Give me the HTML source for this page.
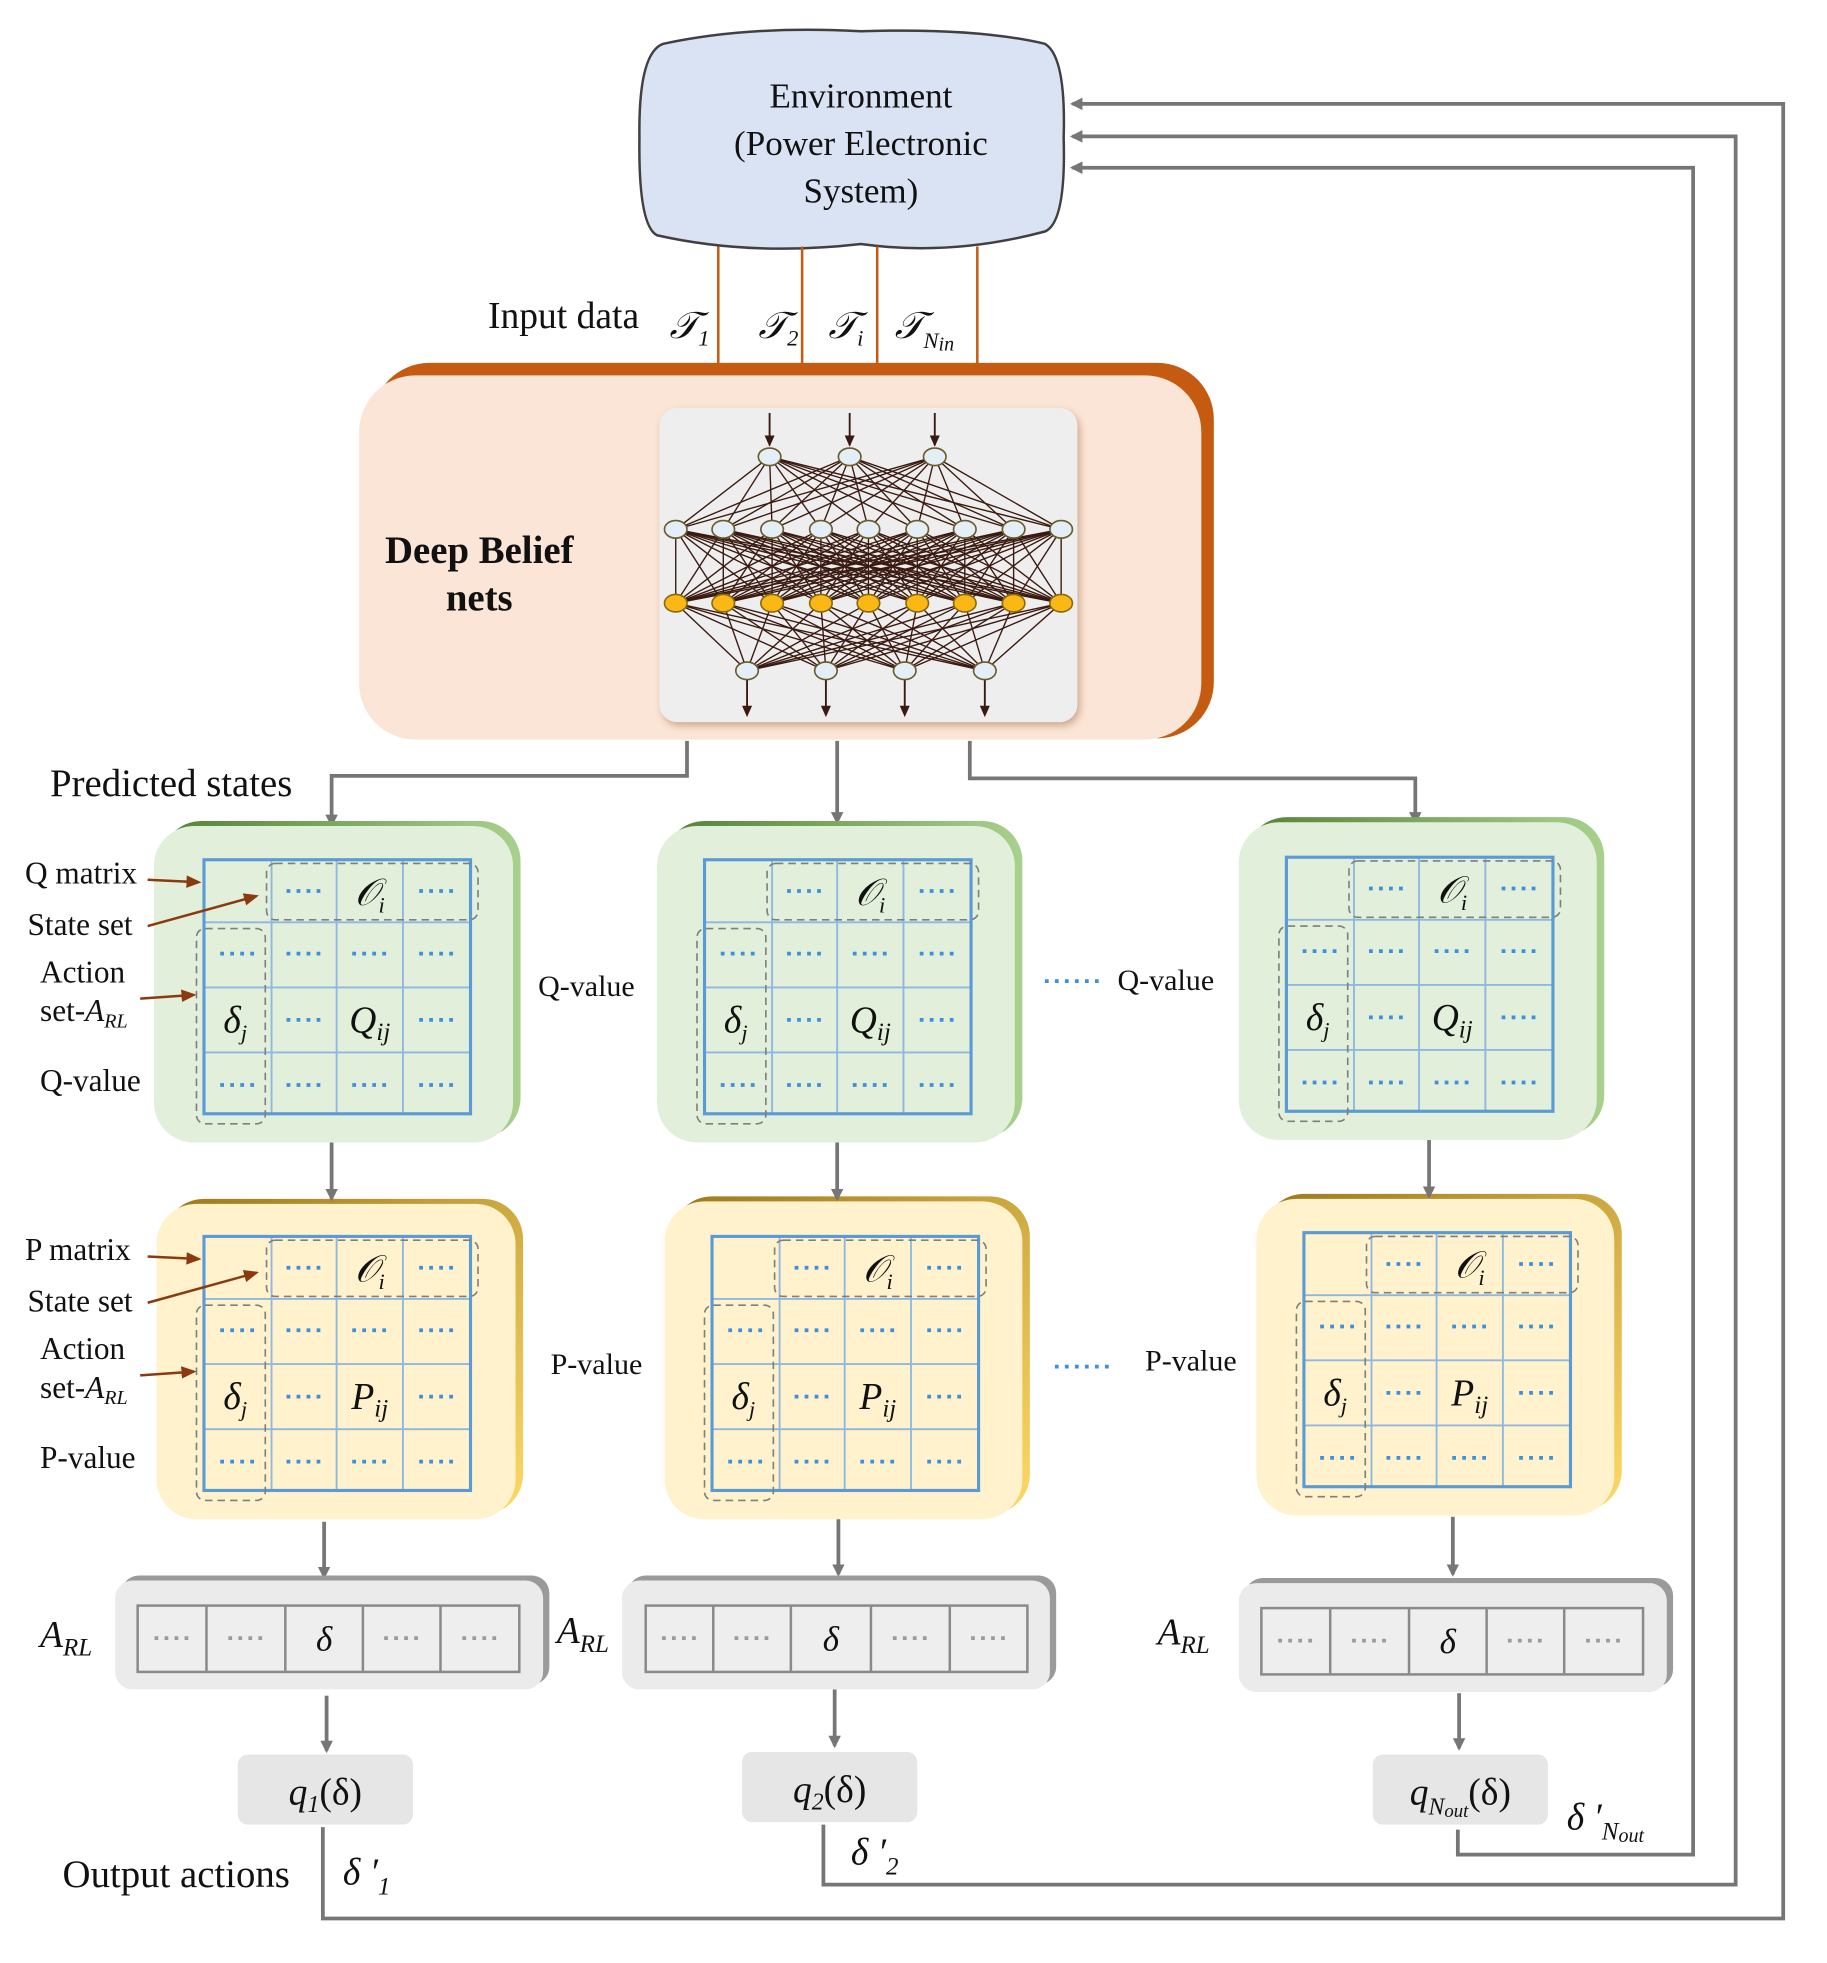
<!DOCTYPE html>
<html><head><meta charset="utf-8">
<style>
html,body{margin:0;padding:0;background:#fff;}
svg{display:block;}
text{font-family:"Liberation Serif",serif;fill:#111;}
.it{font-style:italic;}
</style></head>
<body>
<svg id="s" width="1827" height="1963" viewBox="0 0 1460 1568.6" preserveAspectRatio="none" xmlns="http://www.w3.org/2000/svg">
<defs>
<marker id="ga" markerWidth="10" markerHeight="10" refX="8" refY="5" orient="auto" markerUnits="userSpaceOnUse"><path d="M0,0 L10,5 L0,10 z" fill="#767676"/></marker>
<marker id="ba" markerWidth="12" markerHeight="12" refX="10" refY="6" orient="auto" markerUnits="userSpaceOnUse"><path d="M0,1 L12,6 L0,11 z" fill="#8b3a0f"/></marker>
<linearGradient id="gg" x1="0" y1="0" x2="1" y2="0"><stop offset="0" stop-color="#548235"/><stop offset="1" stop-color="#a9d18e"/></linearGradient>
<linearGradient id="yg" x1="0" y1="0" x2="1" y2="1"><stop offset="0" stop-color="#9c7a1c"/><stop offset="1" stop-color="#ffd966"/></linearGradient>
<filter id="sh" x="-10%" y="-10%" width="120%" height="120%"><feGaussianBlur stdDeviation="3"/></filter>
</defs>
<g id="root"></g>
</svg>
<script>
(function(){
var R=document.getElementById('root');var H='';
function a(s){H+=s;}
a('<path d="M530,35 Q600,20 688,25 Q780,22 835,35 Q852,45 850,110 Q852,178 835,185 Q760,205 688,195 Q600,205 525,188 Q510,180 511,110 Q510,42 530,35 z" fill="#dae3f3" stroke="#404040" stroke-width="2"/>');
a('<text x="688" y="86" font-size="28" text-anchor="middle">Environment</text><text x="688" y="124" font-size="28" text-anchor="middle">(Power Electronic</text><text x="688" y="162" font-size="28" text-anchor="middle">System)</text>');
[574,641,701,781].forEach(function(x){a('<line x1="'+x+'" y1="197" x2="'+x+'" y2="294" stroke="#c55a11" stroke-width="2"/>');});
a('<text x="390" y="262" font-size="30">Input data</text>');
a('<text x="535" y="270" font-size="30" class="it">𝒯<tspan font-size="18" dy="6">1</tspan></text>');
a('<text x="606" y="270" font-size="30" class="it">𝒯<tspan font-size="18" dy="6">2</tspan></text>');
a('<text x="662" y="270" font-size="30" class="it">𝒯<tspan font-size="18" dy="6">i</tspan></text>');
a('<text x="715" y="270" font-size="30" class="it">𝒯<tspan font-size="18" dy="8">N</tspan><tspan font-size="16" dy="2">in</tspan></text>');
a('<rect x="298" y="290" width="672" height="300" rx="45" fill="#c55a11"/>');
a('<rect x="287" y="300" width="673" height="291" rx="45" fill="#fbe5d6"/>');
a('<text x="383" y="450" font-size="31" font-weight="bold" text-anchor="middle">Deep Belief</text><text x="383" y="488" font-size="31" font-weight="bold" text-anchor="middle">nets</text>');
a('<rect x="529" y="329" width="334" height="251" rx="14" fill="#b08060" opacity="0.6" filter="url(#sh)"/>');
a('<rect x="527" y="326" width="334" height="251" rx="14" fill="#eeeeee"/>');
var tp=[615,679,747],mid=[540,578,617,656,694,733,771,810,848],bot=[597,660,723,787];
var L='';
tp.forEach(function(x){mid.forEach(function(m){L+='<line x1="'+x+'" y1="365" x2="'+m+'" y2="423"/>';});});
mid.forEach(function(x){mid.forEach(function(m){L+='<line x1="'+x+'" y1="423" x2="'+m+'" y2="482"/>';});});
mid.forEach(function(x){bot.forEach(function(m){L+='<line x1="'+x+'" y1="482" x2="'+m+'" y2="536"/>';});});
a('<g stroke="#3a1a10" stroke-width="1.1">'+L+'</g>');
tp.forEach(function(x){a('<line x1="'+x+'" y1="330" x2="'+x+'" y2="356" stroke="#3a1a10" stroke-width="1.5"/><path d="M'+(x-4)+',348 L'+(x+4)+',348 L'+x+',357 z" fill="#3a1a10"/>');});
bot.forEach(function(x){a('<line x1="'+x+'" y1="536" x2="'+x+'" y2="570" stroke="#3a1a10" stroke-width="1.5"/><path d="M'+(x-4)+',564 L'+(x+4)+',564 L'+x+',573 z" fill="#3a1a10"/>');});
tp.forEach(function(x){a('<ellipse cx="'+x+'" cy="365" rx="9" ry="7" fill="#e4eef6" stroke="#6b5a2a" stroke-width="1.3"/>');});
mid.forEach(function(x){a('<ellipse cx="'+x+'" cy="423" rx="9" ry="7" fill="#e4eef6" stroke="#6b5a2a" stroke-width="1.3"/>');});
mid.forEach(function(x){a('<ellipse cx="'+x+'" cy="482" rx="9" ry="7" fill="#fbb814" stroke="#8a6a10" stroke-width="1.3"/>');});
bot.forEach(function(x){a('<ellipse cx="'+x+'" cy="536" rx="9" ry="7" fill="#e4eef6" stroke="#6b5a2a" stroke-width="1.3"/>');});
var G='stroke="#767676" stroke-width="3" fill="none"';
a('<polyline points="549,592 549,620 265,620 265,659" '+G+' marker-end="url(#ga)"/>');
a('<polyline points="669,592 669,657" '+G+' marker-end="url(#ga)"/>');
a('<polyline points="775,592 775,622 1131,622 1131,657" '+G+' marker-end="url(#ga)"/>');
a('<text x="40" y="636" font-size="31">Predicted states</text>');
function box(x,y,w,h,kind){
 var g=kind=='g'?'url(#gg)':'url(#yg)',f=kind=='g'?'#e2efda':'#fff2cc';
 a('<rect x="'+(x+6)+'" y="'+(y-4)+'" width="'+w+'" height="'+h+'" rx="32" fill="'+g+'"/><rect x="'+x+'" y="'+y+'" width="'+w+'" height="'+h+'" rx="32" fill="'+f+'"/>');
}
function dots(cx,cy,col){a('<line x1="'+(cx-14)+'" y1="'+cy+'" x2="'+(cx+16)+'" y2="'+cy+'" stroke="'+col+'" stroke-width="3" stroke-dasharray="3 5"/>');}
function grid(x,y,sym){
 var cx=[x,x+54,x+106,x+159,x+213],ry=[y,y+50,y+102,y+154,y+203];
 var s='',i,c;
 for(i=1;i<4;i++)s+='<line x1="'+cx[i]+'" y1="'+y+'" x2="'+cx[i]+'" y2="'+(y+203)+'" stroke="#8fb8e0" stroke-width="1.5"/>';
 for(i=1;i<4;i++)s+='<line x1="'+x+'" y1="'+ry[i]+'" x2="'+(x+213)+'" y2="'+ry[i]+'" stroke="#8fb8e0" stroke-width="1.5"/>';
 s+='<rect x="'+x+'" y="'+y+'" width="213" height="203" fill="none" stroke="#5b9bd5" stroke-width="2.5"/>';
 a(s);
 a('<rect x="'+(x+50)+'" y="'+(y+3)+'" width="169" height="45" rx="7" fill="none" stroke="#7f7f7f" stroke-width="1.3" stroke-dasharray="6 4"/>');
 a('<rect x="'+(x-6)+'" y="'+(y+55)+'" width="55" height="156" rx="7" fill="none" stroke="#7f7f7f" stroke-width="1.3" stroke-dasharray="6 4"/>');
 var b='#3d8fe0';
 dots((cx[1]+cx[2])/2,ry[0]+25,b);dots((cx[3]+cx[4])/2,ry[0]+25,b);
 for(c=0;c<4;c++){dots((cx[c]+cx[c+1])/2,ry[1]+25,b);dots((cx[c]+cx[c+1])/2,ry[3]+26,b);}
 dots((cx[1]+cx[2])/2,ry[2]+26,b);dots((cx[3]+cx[4])/2,ry[2]+26,b);
 a('<text x="'+((cx[2]+cx[3])/2)+'" y="'+(ry[0]+36)+'" font-size="30" class="it" text-anchor="middle">𝒪<tspan font-size="18" dy="6">i</tspan></text>');
 a('<text x="'+((cx[0]+cx[1])/2-2)+'" y="'+(ry[2]+36)+'" font-size="30" class="it" text-anchor="middle">δ<tspan font-size="18" dy="6">j</tspan></text>');
 a('<text x="'+((cx[2]+cx[3])/2)+'" y="'+(ry[2]+36)+'" font-size="30" class="it" text-anchor="middle">'+sym+'<tspan font-size="20" dy="6">ij</tspan></text>');
}
box(123,660,287,253,'g');grid(163,687,'Q');
box(525,660,286,253,'g');grid(563,687,'Q');
box(990,657,286,254,'g');grid(1028,685,'Q');
box(125,962,287,252,'y');grid(163,988,'P');
box(531,960,286,254,'y');grid(569,988,'P');
box(1004,958,286,253,'y');grid(1042,985,'P');
function lab(y0,m){
 a('<text x="20" y="'+(y0+8)+'" font-size="25">'+m+' matrix</text>');
 a('<line x1="118" y1="'+(y0+5)+'" x2="159" y2="'+(y0+7)+'" stroke="#8b3a0f" stroke-width="2" marker-end="url(#ba)"/>');
 a('<text x="22" y="'+(y0+49)+'" font-size="25">State set</text>');
 a('<line x1="118" y1="'+(y0+42)+'" x2="205" y2="'+(y0+18)+'" stroke="#8b3a0f" stroke-width="2" marker-end="url(#ba)"/>');
 a('<text x="32" y="'+(y0+87)+'" font-size="25">Action</text>');
 a('<text x="32" y="'+(y0+118)+'" font-size="25">set-<tspan class="it">A</tspan><tspan class="it" font-size="16" dy="5">RL</tspan></text>');
 a('<line x1="112" y1="'+(y0+100)+'" x2="155" y2="'+(y0+97)+'" stroke="#8b3a0f" stroke-width="2" marker-end="url(#ba)"/>');
 a('<text x="32" y="'+(y0+174)+'" font-size="25">'+m+'-value</text>');
}
lab(698,'Q');lab(999,'P');
a('<text x="430" y="796" font-size="24">Q-value</text><text x="893" y="791" font-size="24">Q-value</text>');
a('<text x="440" y="1098" font-size="24">P-value</text><text x="915" y="1095" font-size="24">P-value</text>');
a('<line x1="835" y1="784" x2="878" y2="784" stroke="#3d8fe0" stroke-width="3" stroke-dasharray="3 5"/>');
a('<line x1="843" y1="1092" x2="886" y2="1092" stroke="#3d8fe0" stroke-width="3" stroke-dasharray="3 5"/>');
[[265,913,958],[669,913,958],[1142,911,956],[259,1216,1260],[670,1214,1258],[1161,1212,1258],[261,1355,1399],[667,1350,1395],[1166,1353,1397]].forEach(function(p){a('<line x1="'+p[0]+'" y1="'+p[1]+'" x2="'+p[0]+'" y2="'+p[2]+'" '+G+' marker-end="url(#ga)"/>');});
function arl(x,y,ix,iy,dv){
 a('<rect x="'+(x+5)+'" y="'+(y-4)+'" width="342" height="87" rx="14" fill="#9a9a9a"/><rect x="'+x+'" y="'+y+'" width="342" height="87" rx="14" fill="#ebebeb"/>');
 a('<rect x="'+ix+'" y="'+iy+'" width="305" height="53" fill="#eeeeee" stroke="#8a8a8a" stroke-width="2"/>');
 dv.forEach(function(d){a('<line x1="'+d+'" y1="'+iy+'" x2="'+d+'" y2="'+(iy+53)+'" stroke="#8a8a8a" stroke-width="2"/>');});
 var e=[ix].concat(dv).concat([ix+305]);
 for(var i=0;i<5;i++){var c=(e[i]+e[i+1])/2;if(i==2)a('<text x="'+c+'" y="'+(iy+36)+'" font-size="28" class="it" text-anchor="middle">δ</text>');else dots(c,iy+26,'#9a9a9a');}
}
arl(92,1263,110,1283,[165,228,290,352]);
arl(497,1263,516,1283,[570,632,696,759]);
arl(990,1265,1008,1285,[1063,1126,1188,1250]);
[[32,1316],[445,1313],[925,1314]].forEach(function(p){a('<text x="'+p[0]+'" y="'+p[1]+'" font-size="30" class="it">A<tspan font-size="20" dy="7">RL</tspan></text>');});
function qb(x,y,lbl){a('<rect x="'+x+'" y="'+y+'" width="140" height="56" rx="8" fill="#e7e6e6"/><text x="'+(x+70)+'" y="'+(y+40)+'" font-size="30" class="it" text-anchor="middle">'+lbl+'</text>');}
qb(190,1402,'q<tspan font-size="19" dy="6">1</tspan><tspan dy="-6" font-style="normal">(δ)</tspan>');
qb(593,1400,'q<tspan font-size="19" dy="6">2</tspan><tspan dy="-6" font-style="normal">(δ)</tspan>');
qb(1097,1402,'q<tspan font-size="19" dy="8">N</tspan><tspan font-size="15" dy="2">out</tspan><tspan dy="-10" font-style="normal">(δ)</tspan>');
a('<polyline points="258,1460 258,1533 1425,1533 1425,83 857,83" '+G+' marker-end="url(#ga)"/>');
a('<polyline points="658,1458 658,1506 1387,1506 1387,109 857,109" '+G+' marker-end="url(#ga)"/>');
a('<polyline points="1165,1462 1165,1482 1353,1482 1353,134 857,134" '+G+' marker-end="url(#ga)"/>');
a('<text x="50" y="1508" font-size="31">Output actions</text>');
a('<text x="274" y="1506" font-size="30" class="it">δ ′<tspan font-size="20" dy="8">1</tspan></text>');
a('<text x="680" y="1490" font-size="30" class="it">δ ′<tspan font-size="20" dy="8">2</tspan></text>');
a('<text x="1252" y="1462" font-size="30" class="it">δ ′<tspan font-size="20" dy="8">N</tspan><tspan font-size="16" dy="2">out</tspan></text>');
R.innerHTML=H;
})();
</script>
</body></html>
